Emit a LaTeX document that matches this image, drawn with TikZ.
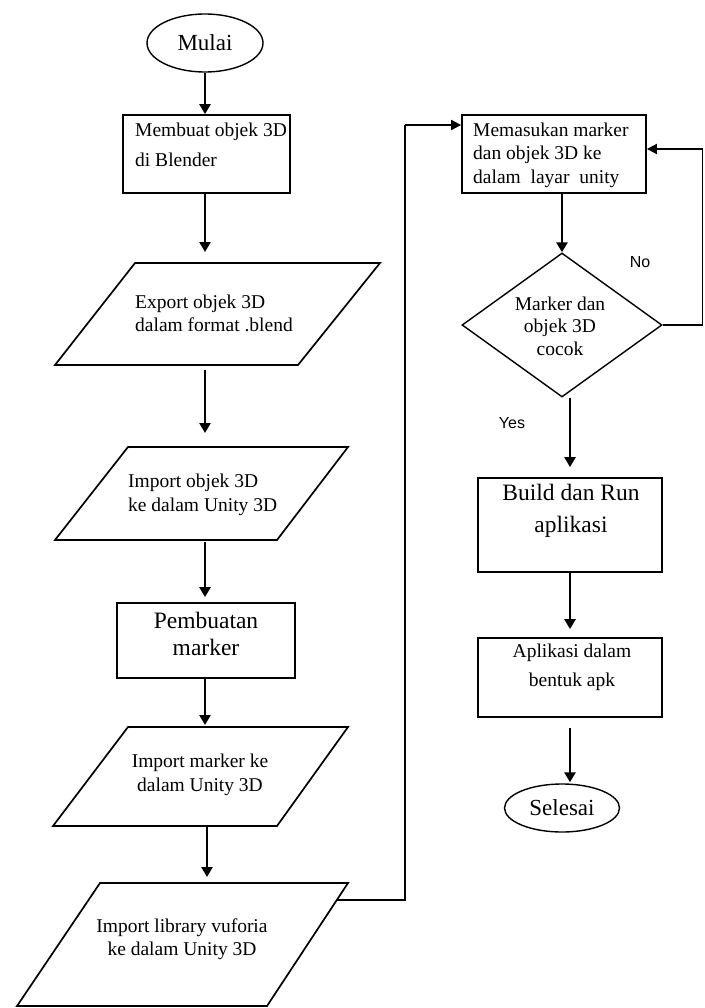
\documentclass[tikz,border=0pt]{standalone}
\usepackage{fontspec}
\setmainfont{Liberation Serif}
\newfontfamily\labelsans{Liberation Sans}
\usetikzlibrary{shapes.geometric,arrows.meta}
\begin{document}
\begin{tikzpicture}[x=1pt,y=-1pt,
  boxshape/.style={draw,line width=1.8pt,rectangle,inner sep=0pt},
  para/.style={draw,line width=1.7pt,line join=miter},
  term/.style={draw,line width=1.4pt,ellipse,inner sep=0pt,font=\fontsize{23}{26}\selectfont},
  smalltxt/.style={inner sep=0pt,font=\fontsize{19.5}{23.5}\selectfont},
  bigtxt/.style={inner sep=0pt,font=\fontsize{23.5}{27}\selectfont,align=center},
  arr/.style={line width=2.8pt,-{Triangle[width=11pt,length=10pt]}},
  link/.style={line width=1.8pt},
  linkarr/.style={line width=1.8pt,-{Triangle[width=10pt,length=10pt]}},
  lbl/.style={inner sep=0pt,font=\labelsans\fontsize{16}{18}\selectfont}]
\useasboundingbox (0,0) rectangle (704,1008);

% ---------- left column ----------
\node[term,minimum width=116pt,minimum height=58pt] (mulai) at (205,43) {Mulai};

\node[boxshape,minimum width=167pt,minimum height=78pt] (b1) at (206.5,154) {};
\node[smalltxt,align=left,anchor=west,font=\fontsize{19.5}{30}\selectfont] (t1) at (135,145) {Membuat objek 3D\\di Blender};

\draw[para] (135,263) -- (380,263) -- (298,365) -- (55,365) -- cycle;
\coordinate (p2n) at (205,263);
\coordinate (p2s) at (205,365);
\node[smalltxt,align=left,anchor=west] (t2) at (135,313.5) {Export objek 3D\\dalam format .blend};

\draw[para] (128,447) -- (348,447) -- (277,540) -- (55,540) -- cycle;
\coordinate (p3n) at (205,447);
\coordinate (p3s) at (205,540);
\node[smalltxt,align=left,anchor=west] (t3) at (128,495) {Import objek 3D\\ke dalam Unity 3D};

\node[boxshape,minimum width=178pt,minimum height=75pt] (b4) at (206,640.5) {};
\node[bigtxt] (t4) at (206,633.5) {Pembuatan\\marker};

\draw[para] (128,727) -- (348,727) -- (277,826) -- (53,826) -- cycle;
\coordinate (p5n) at (205,727);
\coordinate (p5s) at (205,826);
\node[smalltxt,align=center] (t5) at (200,775) {Import marker ke\\dalam Unity 3D};

\draw[para] (100,883) -- (348,883) -- (267,1006) -- (17,1006) -- cycle;
\coordinate (p6n) at (207,883);
\coordinate (p6e) at (337,900);
\node[smalltxt,align=center] (t6) at (182,939) {Import library vuforia\\ke dalam Unity 3D};

% ---------- right column ----------
\node[boxshape,minimum width=184pt,minimum height=78pt] (b7) at (554,154) {};
\node[smalltxt,align=left,anchor=west] (t7) at (473,155) {Memasukan marker\\dan objek 3D ke\\dalam~ layar~ unity};

\node[draw,line width=1.4pt,diamond,inner sep=0pt,minimum width=200pt,minimum height=144pt] (d8) at (562,325) {};
\node[smalltxt,align=center,font=\fontsize{19.5}{22.5}\selectfont] (t8) at (560,326) {Marker dan\\objek 3D\\cocok};

\node[boxshape,minimum width=184pt,minimum height=94pt] (b9) at (570,525) {};
\node[bigtxt,font=\fontsize{23.5}{32}\selectfont] (t9) at (571,511) {Build dan Run\\aplikasi};

\node[boxshape,minimum width=184pt,minimum height=79pt] (b10) at (570,677.5) {};
\node[smalltxt,align=center,font=\fontsize{19.5}{29}\selectfont] (t10) at (572,667.5) {Aplikasi dalam\\bentuk apk};

\node[term,minimum width=115pt,minimum height=48pt] (selesai) at (562,808) {Selesai};

\node[lbl] (no) at (640,262) {No};
\node[lbl] (yes) at (512,423) {Yes};

% ---------- connectors ----------
\draw[arr] (mulai.south) -- (mulai.south |- b1.north);
\draw[arr,shorten >=11pt] (b1.south -| p2n) -- (p2n);
\draw[arr,shorten <=5pt,shorten >=14pt] (p2s) -- (p3n);
\draw[arr,shorten <=2pt,shorten >=5pt] (p3s) -- (p3s |- b4.north);
\draw[arr,shorten >=2pt] (b4.south -| p5n) -- (p5n);
\draw[arr,shorten >=6pt] (p5s -| p6n) -- (p6n);

\coordinate (c1) at (405,900);
\coordinate (c2) at (405,125);
\draw[link] (p6e) -- (c1) -- (c2);
\draw[linkarr] (c2) -- (b7.west |- c2);

\draw[arr] (b7.south -| d8.north) -- (d8.north);

\coordinate (c4) at (702.5,149);
\draw[link] (d8.east) -- (d8.east -| c4) -- (c4);
\draw[linkarr] (c4) -- (b7.east |- c4);

\draw[arr,shorten >=10pt] (d8.south -| b9.north) -- (b9.north);
\draw[arr,shorten >=8pt] (b9.south) -- (b10.north);
\draw[arr,shorten <=10pt,shorten >=1pt] (b10.south) -- (b10.south |- selesai.north);
\end{tikzpicture}
\end{document}
